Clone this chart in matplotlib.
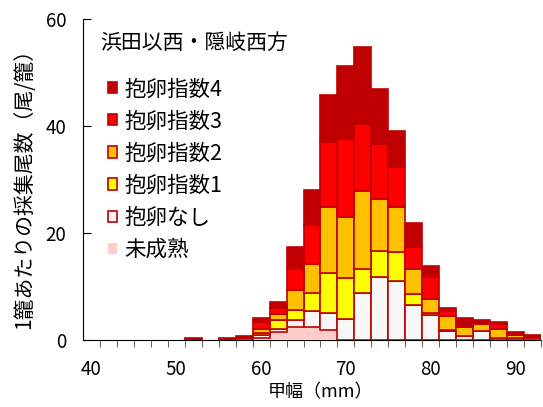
import numpy as np
import matplotlib.pyplot as plt

plt.rcParams['font.family'] = ['Noto Sans CJK JP', 'DejaVu Sans']

# carapace width classes (mm), 2 mm bins
sizes = [40, 42, 44, 46, 48, 50, 52, 54, 56, 58, 60, 62, 64, 66,
         68, 70, 72, 74, 76, 78, 80, 82, 84, 86, 88, 90, 92]

# catch per trap, by maturity / egg stage
immature = [0, 0, 0, 0, 0, 0, 0, 0, 0, 0, 0.35, 1.5, 2.5, 2.4,
            1.9, 0, 0, 0, 0, 0, 0, 0, 0, 0, 0, 0, 0]
no_egg = [0, 0, 0, 0, 0, 0, 0.15, 0, 0.15, 0.3, 0.5, 0.5, 1.2, 3.0,
          3.2, 4.0, 8.8, 11.7, 11.1, 6.45, 4.7, 1.6, 0.75, 1.6, 0.4, 0.3, 0.3]
egg1 = [0, 0, 0, 0, 0, 0, 0, 0, 0, 0, 0.45, 1.7, 1.9, 3.3,
        7.4, 7.6, 4.5, 4.9, 5.3, 2.15, 0.3, 0.2, 0, 0.1, 0, 0, 0]
egg2 = [0, 0, 0, 0, 0, 0, 0, 0, 0, 0.1, 0.8, 1.25, 3.75, 5.45,
        12.4, 11.3, 14.6, 9.8, 8.4, 4.6, 2.7, 2.6, 1.6, 1.3, 1.65, 0.6, 0]
egg3 = [0, 0, 0, 0, 0, 0, 0, 0, 0, 0, 1.25, 1.1, 3.85, 7.35,
        12.2, 14.7, 12.5, 10.2, 7.6, 4.1, 4.0, 1.1, 0.2, 0, 0.95, 0.1, 0]
egg4 = [0, 0, 0, 0, 0, 0, 0.15, 0, 0.2, 0.3, 0.8, 1.05, 4.1, 6.5,
        8.7, 13.6, 14.3, 10.3, 6.7, 4.5, 2.1, 0.4, 1.5, 0.7, 0.3, 0.45, 0.6]

labels = ['未成熟', '抱卵なし', '抱卵指数1', '抱卵指数2', '抱卵指数3', '抱卵指数4']
colors = ['#FFCCCC', '#F7F7F7', '#FFFF00', '#FFC000', '#FF0000', '#C00000']
edges = ['none', '#C00000', '#C00000', '#C00000', '#C00000', '#C00000']

fig = plt.figure(figsize=(5.43, 4.07), dpi=100)
ax = fig.add_axes([83/543, 67/407, 458/543, 321/407])

x = np.array(sizes)
bottom = np.zeros(len(sizes))
for vals, c, ec, lab in zip([immature, no_egg, egg1, egg2, egg3, egg4],
                            colors, edges, labels):
    v = np.array(vals, dtype=float)
    m = v > 0
    ax.bar(x[m], v[m], width=2, bottom=bottom[m], color=c,
           edgecolor=ec, linewidth=1.2, label=lab)
    bottom += v

ax.set_xlim(39, 93)
ax.set_ylim(0, 60)
ax.set_xticks([40, 50, 60, 70, 80, 90])
ax.set_xticks(np.arange(41, 94, 2), minor=True)
ax.set_yticks([0, 20, 40, 60])
ax.tick_params(axis='x', which='major', length=0, pad=14, labelsize=13.5)
ax.tick_params(axis='x', which='minor', length=5, direction='out',
               color='#404040')
ax.tick_params(axis='y', direction='in', length=6, pad=12, labelsize=13.5)

for s in ['top', 'right']:
    ax.spines[s].set_visible(False)
ax.spines['bottom'].set_zorder(0.5)

ax.set_xlabel('甲幅（mm）', fontsize=13)
ax.xaxis.set_label_coords((321 - 83) / 458, -0.135)
ax.set_ylabel('1籠あたりの採集尾数（尾/籠）', fontsize=15)
ax.yaxis.set_label_coords(-0.105, 0.4875)

ax.text(0.037, 0.925, '浜田以西・隠岐西方', transform=ax.transAxes,
        fontsize=15, va='center', ha='left')

h, l = ax.get_legend_handles_labels()
ax.legend(h[::-1], l[::-1], loc='upper left', bbox_to_anchor=(0.055, 0.815),
          frameon=False, fontsize=15.5, handlelength=0.42, handleheight=0.42,
          handletextpad=0.35, labelspacing=0.47, borderpad=0, borderaxespad=0)

fig.savefig('out.png', dpi=100)
